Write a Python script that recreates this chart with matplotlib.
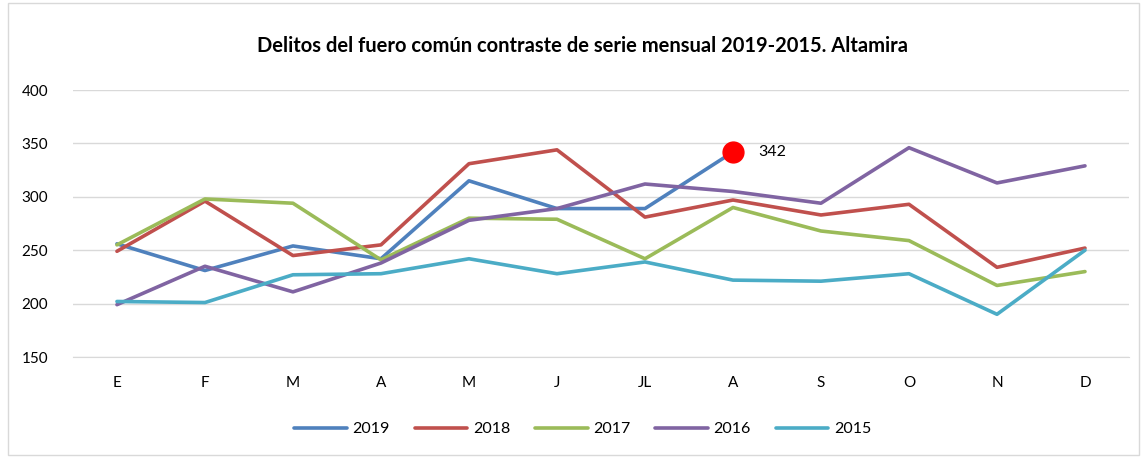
import matplotlib.pyplot as plt
from matplotlib.patches import Rectangle

plt.rcParams['font.family'] = ['Lato', 'DejaVu Sans']

meses = ['E', 'F', 'M', 'A', 'M', 'J', 'JL', 'A', 'S', 'O', 'N', 'D']

v2019 = [256, 231, 254, 242, 315, 289, 289, 342]
v2018 = [249, 296, 245, 255, 331, 344, 281, 297, 283, 293, 234, 252]
v2017 = [255, 298, 294, 241, 280, 279, 242, 290, 268, 259, 217, 230]
v2016 = [199, 235, 211, 238, 278, 289, 312, 305, 294, 346, 313, 329]
v2015 = [202, 201, 227, 228, 242, 228, 239, 222, 221, 228, 190, 250]

series = [('2019', v2019, '#4F81BD'),
          ('2018', v2018, '#C0504D'),
          ('2017', v2017, '#9BBB59'),
          ('2016', v2016, '#8064A2'),
          ('2015', v2015, '#4BACC6')]

fig = plt.figure(figsize=(11.47, 4.57), dpi=100)
ax = fig.add_axes([0.0636, 0.2188, 0.9207, 0.5842])

for nombre, vals, col in series:
    ax.plot(range(len(vals)), vals, color=col, lw=2.6, label=nombre,
            solid_capstyle='round', solid_joinstyle='round')

# last value of 2019 highlighted
ult = len(v2019) - 1
ax.plot(ult, v2019[ult], 'o', color='#FF0000', markersize=15, zorder=5)
ax.annotate(str(v2019[ult]), (ult, v2019[ult]), xytext=(18, 0),
            textcoords='offset points', va='center', ha='left', fontsize=11.5)

ax.set_xlim(-0.5, len(meses) - 0.5)
ax.set_ylim(150, 400)
ax.set_yticks(range(150, 401, 50))
ax.set_xticks(range(len(meses)))
ax.set_xticklabels(meses)
ax.tick_params(length=0, labelsize=11, pad=14)
ax.tick_params(axis='y', pad=18)
ax.grid(axis='y', color='#D9D9D9', lw=1)
ax.set_axisbelow(True)
for s in ['top', 'right', 'left']:
    ax.spines[s].set_visible(False)
ax.spines['bottom'].set_color('#D9D9D9')

fig.text(0.508, 0.9, 'Delitos del fuero común contraste de serie mensual 2019-2015. Altamira',
         ha='center', va='center', fontsize=14.5, fontweight='bold')

fig.legend(loc='center', bbox_to_anchor=(0.508, 0.061), ncol=5, frameon=False,
           fontsize=11.5, handlelength=3.3, handletextpad=0.35, columnspacing=1.55)

fig.patches.append(Rectangle((0.007, 0.005), 0.986, 0.988, transform=fig.transFigure,
                             fill=False, edgecolor='#D9D9D9', lw=1))

fig.savefig('out.png', dpi=100)
